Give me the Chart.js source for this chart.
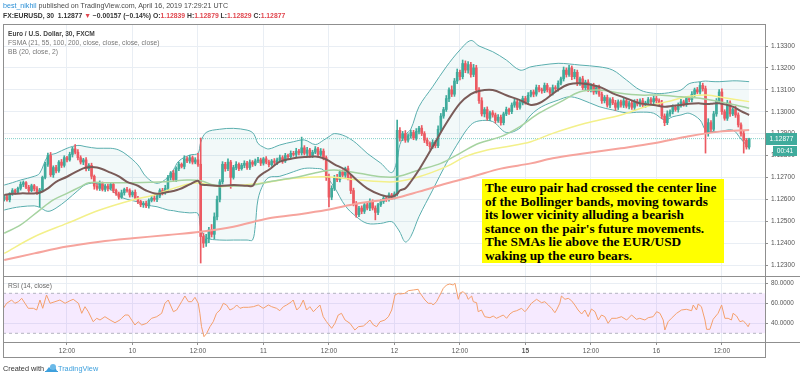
<!DOCTYPE html>
<html><head><meta charset="utf-8">
<script src="https://cdn.jsdelivr.net/npm/chart.js@4.4.1/dist/chart.umd.min.js"></script>
<style>
html,body{margin:0;padding:0;background:#fff;width:800px;height:378px;overflow:hidden;font-family:"Liberation Sans",Arial,sans-serif;}
#wrap{position:relative;width:800px;height:378px;}
canvas{position:absolute;left:0;}
.t{position:absolute;white-space:nowrap;line-height:1;}
.ln{position:absolute;background:#8f8f8f;}
.r{color:#e0464e;}
#note{position:absolute;left:482px;top:179px;width:242px;height:84px;background:#ffff00;font-family:"Liberation Serif","Times New Roman",serif;font-weight:bold;font-size:13.3px;line-height:13.5px;color:#000;padding:2px 0 0 3px;box-sizing:border-box;white-space:nowrap;overflow:hidden;}
</style></head><body><div id="wrap">
<canvas id="main" width="800" height="276" style="top:0"></canvas>
<canvas id="rsi" width="800" height="81" style="top:276px"></canvas>

<div class="ln" style="left:3px;top:24px;width:1px;height:334px"></div>
<div class="ln" style="left:3px;top:24px;width:763px;height:1px"></div>
<div class="ln" style="left:765px;top:24px;width:1px;height:334px"></div>
<div class="ln" style="left:3px;top:357px;width:763px;height:1px"></div>
<div class="ln" style="left:3px;top:276px;width:797px;height:1px"></div>
<div class="ln" style="left:3px;top:342px;width:797px;height:1px"></div>

<div class="t" style="left:3px;top:2.5px;font-size:7.1px;color:#4a4a4a"><span style="color:#2a8fd6">best_nikhil</span> published on TradingView.com, April 16, 2019 17:29:21 UTC</div>
<div class="t" style="left:3px;top:12.5px;font-size:6.8px;font-weight:bold;color:#333">FX:EURUSD, 30&nbsp; 1.12877 <span class="r">▼</span> −0.00157 (−0.14%) O:<span class="r">1.12839</span> H:<span class="r">1.12879</span> L:<span class="r">1.12829</span> C:<span class="r">1.12877</span></div>
<div class="t" style="left:8px;top:30.5px;font-size:6.6px;font-weight:bold;color:#444">Euro / U.S. Dollar, 30, FXCM</div>
<div class="t" style="left:8px;top:39.5px;font-size:6.75px;color:#777">FSMA (21, 55, 100, 200, close, close, close, close)</div>
<div class="t" style="left:8px;top:48.5px;font-size:6.75px;color:#777">BB (20, close, 2)</div>
<div class="t" style="left:8px;top:282.5px;font-size:6.65px;color:#666">RSI (14, close)</div>

<div id="note">The euro pair had crossed the center line<br>of the Bollinger bands, moving towards<br>its lower vicinity alluding a bearish<br>stance on the pair's future movements.<br>The SMAs lie above the EUR/USD<br>waking up the euro bears.</div>

<div class="t" style="left:3px;top:364.5px;font-size:7.3px;color:#333">Created with</div>
<svg style="position:absolute;left:45px;top:363px" width="13" height="9" viewBox="0 0 13 9"><path d="M1 8 L4 4 L6 6 L9 2 L12 8 Z" fill="#3ea0dd"/><circle cx="8" cy="4" r="3" fill="#6bb9e8"/><path d="M0 8.5 H13" stroke="#3ea0dd" stroke-width="1"/></svg>
<div class="t" style="left:58px;top:364.5px;font-size:7.3px;color:#3ea0dd">TradingView</div>
</div>
<script>
// ---------- data (prices in pips above 1.12000) ----------
const BASE = 1.12;
const firstOpen = 600;
const closes = [
612,598,625,640,632,650,668,676,655,640,
662,648,630,642,700,760,800,712,745,730,
770,755,790,780,805,830,815,790,770,780,
740,755,705,660,650,672,645,660,650,668,
640,625,610,630,645,640,620,632,605,590,
575,582,570,595,605,600,615,640,630,650,
700,720,690,740,760,750,785,775,790,770,
780,760,430,400,420,460,440,520,600,680,
760,740,770,700,745,760,740,755,765,745,
770,760,775,780,765,785,770,758,775,768,
780,790,775,800,795,810,805,820,812,835,
810,825,800,815,830,805,820,790,700,610,
650,700,690,725,710,740,700,640,580,530,
560,545,575,560,590,560,540,575,590,605,
600,620,610,625,915,880,900,870,890,905,
880,910,925,900,870,855,840,860,845,920,
980,1010,1060,1100,1080,1140,1180,1160,1220,1190,
1215,1170,1200,1100,1050,990,1010,970,995,985,
960,975,950,990,1010,1000,1030,1045,1020,1040,
1060,1045,1075,1090,1080,1110,1100,1095,1120,1100,
1085,1110,1105,1130,1150,1190,1170,1200,1160,1180,
1130,1150,1110,1135,1100,1120,1090,1110,1080,1050,
1065,1030,1055,1040,1020,1045,1030,1050,1025,1040,
1020,1045,1035,1050,1030,1040,1055,1045,1060,1050,
1040,980,950,990,1000,1020,1010,1030,1045,1035,
1060,1055,1080,1100,1090,1120,1105,900,950,920,
990,1050,1090,1000,970,1040,990,1010,985,940,
900,870,839,877];
const upWick = [
6,8,5,9,7,6,12,8,5,9, 7,6,10,8,6,9,11,14,8,10, 7,12,9,6,10,8,20,12,9,7,
11,8,10,6,9,12,7,8,10,6, 9,7,8,12,6,10,8,7,11,9, 6,8,10,7,9,12,6,8,10,14,
9,7,12,8,10,6,14,9,11,8, 10,30,120,14,20,12,25,18,15,10, 12,9,15,8,10,12,7,9,11,8,
10,7,9,12,8,6,10,9,7,11, 8,12,9,10,7,11,9,13,8,49, 10,12,8,9,11,7,12,10,8,15,
12,9,14,8,10,7,12,9,11,10, 8,10,7,9,12,8,10,7,9,11, 8,10,7,9,47,12,10,14,9,11,
10,13,8,12,9,10,7,12,8,15, 12,10,14,9,18,12,15,10,16,12, 14,10,16,12,10,14,9,12,8,10,
9,12,10,8,11,6,10,12,8,9, 11,10,12,8,9,12,10,8,11,9, 10,12,9,11,8,14,10,12,9,13,
10,8,12,9,11,8,10,9,12,10, 9,11,8,10,12,9,8,11,10,9, 8,10,12,9,11,8,10,9,12,10,
9,12,10,14,8,11,9,10,12,8, 10,9,12,8,11,14,10,12,18,10, 12,10,11,14,9,12,10,8,15,10,
9,12,8,2];
const dnWick = [
8,6,10,7,9,6,8,10,7,9, 6,10,8,65,9,7,10,8,12,9, 7,10,8,9,6,12,8,10,9,12,
10,9,12,14,8,10,7,9,12,8, 10,7,9,6,11,8,10,9,7,10, 9,12,8,10,7,9,11,8,10,7,
9,12,8,10,9,7,11,8,10,9, 8,10,121,20,15,18,12,20,14,12, 10,12,9,50,8,10,9,7,11,8,
9,10,7,8,11,9,8,10,7,9, 10,8,11,7,9,10,8,12,9,10, 8,11,9,10,7,12,9,10,14,45,
12,10,9,11,8,10,12,14,10,12, 9,11,10,8,12,9,34,10,8,9, 10,8,11,9,10,14,12,10,9,11,
8,10,12,9,11,10,12,8,10,9, 12,10,9,14,11,10,12,15,10,12, 14,12,10,15,12,10,14,9,11,10,
12,9,11,10,8,12,9,10,11,8, 9,11,10,8,12,9,10,11,8,10, 12,9,10,11,8,10,12,9,14,10,
11,10,9,12,8,10,11,9,10,12, 10,9,12,8,14,10,9,11,8,12, 10,14,9,11,8,10,12,9,10,11,
10,12,14,9,11,10,8,12,9,10, 11,9,10,12,8,10,11,89,12,10, 9,11,10,12,9,10,12,8,11,10,
12,59,10,10];

const bbX = [1,4,7,12,14,17,20,24,28,31,35,40,43,46,50,53,57,61,63,65,69,72,73,75,80,85,90,92,93,94,
96,98,102,107,111,115,118,120,122,126,130,134,139,143,145,146,148,150,153,158,163,168,172,175,180,185,190,194,198,204,
208,212,219,224,229,234,239,243,246,249,252,256,258,260,263,268,271,274];
const bbUpper = [665,676,688,705,719,797,810,833,846,840,833,833,825,802,757,703,673,700,734,775,802,810,860,905,920,924,916,905,885,855,
838,830,848,863,871,850,870,886,900,888,856,810,765,722,780,850,895,920,1023,1114,1205,1282,1325,1300,1274,1236,1190,1205,1213,1221,
1218,1213,1205,1190,1145,1099,1084,1084,1090,1099,1128,1137,1140,1138,1137,1141,1140,1137];
const bbLower = [551,560,566,570,563,545,560,597,640,668,672,645,615,600,588,574,566,551,548,543,538,535,470,425,414,414,414,414,480,600,
670,700,705,726,741,741,734,690,655,570,521,490,490,498,470,450,405,430,521,642,764,871,940,958,955,905,925,985,1023,1053,
1068,1058,1023,1008,995,998,993,962,977,985,993,962,916,910,909,916,875,833];
const bbBasis = [620,625,627,627,630,650,680,703,730,745,745,722,705,680,662,640,625,633,638,645,668,685,668,665,661,665,662,661,680,700,
720,735,772,787,793,795,787,775,760,735,690,650,620,612,625,640,650,680,735,840,947,1038,1080,1095,1099,1075,1053,1031,1045,1100,
1125,1130,1114,1084,1061,1038,1031,1023,1027,1031,1036,1038,1035,1036,1038,1023,1003,985];

const sma55X = [1,7,14,19,24,29,32,38,48,60,68,73,78,85,92,98,102,109,117,122,131,139,145,153,161,168,175,183,190,197,205,212,219,227,234,241,249,256,263,269,274];
const sma55 = [445,483,551,597,627,658,676,676,676,680,688,685,665,661,665,680,688,703,726,734,719,703,703,734,764,810,856,886,932,993,1046,1091,1099,1084,1076,1076,1068,1061,1046,1031,1016];
const sma100X = [1,12,24,36,48,56,63,70,75,80,87,95,107,119,131,144,153,163,170,178,185,194,202,214,227,236,244,251,258,266,274];
const sma100 = [353,429,490,551,597,620,650,673,670,658,664,673,696,703,688,680,703,749,795,825,840,863,901,947,985,1023,1046,1068,1076,1061,1046];
const sma200X = [1,12,24,36,48,61,73,85,98,107,119,131,144,153,163,173,183,194,202,214,227,239,251,263,274];
const sma200 = [323,353,384,406,422,437,452,475,513,528,551,582,605,635,672,705,740,764,787,810,833,856,886,909,916];

const rsiX = [0.7,1.9,3.7,4.9,6.2,7.4,8.6,9.8,11.7,12.9,14.1,15.1,16.5,17.8,19.6,21.4,23.3,25.1,26.3,28.2,
29.4,30.6,31.8,33.6,34.9,36.1,37.9,39.8,41.6,43.4,44.0,45.3,46.5,47.7,48.9,50.1,51.4,53.2,55.0,56.9,
58.7,59.9,61.1,63.0,64.2,66.0,67.2,68.5,69.7,70.9,72.1,72.7,73.3,74.2,75.2,76.4,77.6,78.8,80.1,81.3,
82.5,83.7,85.0,86.2,87.4,88.6,90.5,92.3,94.1,95.9,97.8,99.0,100.8,102.0,103.3,104.5,106.3,106.9,108.2,109.4,
110.6,111.8,113.0,114.3,115.5,116.7,117.9,119.1,121.0,122.2,123.4,124.6,125.9,127.7,129.5,130.8,132.6,133.8,135.0,136.3,
137.5,138.7,140.5,141.8,143.0,144.2,145.4,
146.0,147.8,149.1,150.9,152.7,153.3,155.2,156.4,157.6,158.2,159.4,160.7,161.9,163.1,164.3,165.5,166.2,167.4,168.2,169.2,
170.4,171.0,172.3,172.9,174.1,174.7,175.9,177.1,179.0,180.2,181.4,182.6,183.9,185.1,186.3,187.5,188.8,190.6,191.8,192.4,
194.2,196.1,197.9,199.1,200.4,201.6,202.8,203.4,204.6,205.2,206.5,207.7,208.9,210.1,211.3,212.6,213.8,215.0,216.2,217.5,
218.7,219.9,221.1,222.3,223.6,225.4,227.2,229.1,230.9,232.7,233.9,235.8,237.0,238.8,240.1,241.3,242.5,243.1,244.3,245.5,
247.4,249.2,251.0,252.9,253.5,254.7,255.3,256.5,257.8,258.4,259.6,260.8,262.6,263.9,265.1,266.3,267.5,268.1,269.4,270.6,
271.8,273.0,273.6,274.2];
const rsiV = [55.0,60.0,63.3,60.0,61.6,65.0,60.0,55.0,55.0,53.3,63.3,55.0,68.3,60.0,61.6,63.3,60.0,62.6,64.0,60.0,
50.0,56.6,51.6,41.6,45.0,43.3,46.6,43.3,40.6,43.3,45.0,48.3,48.3,43.3,38.3,41.6,38.3,40.0,45.0,46.6,
50.0,60.0,63.3,51.6,53.3,61.6,67.3,61.6,61.6,66.0,60.0,50.0,36.6,26.6,30.0,36.6,41.6,50.0,53.3,60.0,
58.3,53.3,55.0,58.3,55.0,56.0,56.0,56.6,58.3,55.0,58.3,56.6,55.0,52.6,56.6,58.3,61.6,63.3,53.3,56.6,
63.3,53.3,56.6,51.6,55.0,58.3,46.6,41.6,35.0,40.0,48.3,50.0,43.3,40.0,33.3,36.6,37.3,40.0,43.3,38.3,
36.6,41.6,43.3,46.6,53.3,68.3,70.0,
69.3,70.0,72.6,73.3,74.0,70.6,63.3,60.0,60.0,58.3,61.6,68.3,75.0,78.3,79.3,78.3,80.0,64.0,70.6,71.6,
68.3,64.0,67.3,61.6,60.6,51.6,53.3,46.6,45.6,47.3,45.0,46.6,48.3,45.0,49.3,51.6,52.6,55.0,51.6,53.3,
60.0,64.0,60.6,61.6,58.3,55.0,50.6,53.3,60.0,67.3,64.0,65.0,62.6,58.3,53.3,49.3,53.3,46.6,54.3,51.6,
43.3,48.3,46.6,40.0,45.0,45.0,46.6,43.3,48.3,44.0,45.0,43.3,45.6,46.6,51.6,50.0,43.3,33.3,41.6,45.0,
50.0,53.3,54.0,52.6,58.3,53.3,59.3,56.6,43.3,34.0,34.0,44.0,50.0,58.3,45.0,45.0,43.3,50.0,47.3,41.6,
42.6,39.0,36.6,40.0];

const timeTickIdx = [24,48,72,96,120,144,168,192,216,240,264];
const timeTickLabels = ["12:00","10","12:00","11","12:00","12","12:00","15","12:00","16","12:00"];
const priceTicks = [1.123,1.124,1.125,1.126,1.127,1.128,1.129,1.130,1.131,1.132,1.133];
const rsiTicks = [40,60,80];
const rsiBand = [30,70];
const lastPrice = 1.12877;
const countdown = "00:41";

// ---------- build ----------
const X_MIN = 0.55, X_MAX = 279.8;
const Y_MAX = 1.1340046, Y_MIN = 1.1224978;
const UP = '#3fab9c', DN = '#ec5a62', GRID = '#e9eef4', AX = '#8f8f8f';
const FONT = '"Liberation Sans", Arial, sans-serif';
Chart.defaults.font.family = FONT;
const toP = v => +(BASE + v / 1e5).toFixed(5);
const pts = (xs, vs, f) => xs.map((x, k) => ({x, y: f ? f(vs[k]) : vs[k]}));

const bodies = [], wicks = [], cols = [];
for (let k = 0; k < closes.length; k++) {
  const o = k === 0 ? firstOpen : closes[k - 1], c = closes[k];
  const hi = Math.max(o, c) + (upWick[k] || 0), lo = Math.min(o, c) - (dnWick[k] || 0);
  bodies.push({x: k + 1, y: [toP(o), toP(c)]});
  wicks.push({x: k + 1, y: [toP(lo), toP(hi)]});
  cols.push(c >= o ? UP : DN);
}
const lineDs = (data, color, width, order, extra) => Object.assign({type: 'line', data, borderColor: color, borderWidth: width, pointRadius: 0, tension: 0.35, fill: false, order}, extra || {});

const priceLabel = {
  id: 'priceLabel',
  afterDraw(chart) {
    const ctx = chart.ctx, a = chart.chartArea, y = Math.round(chart.scales.y.getPixelForValue(lastPrice));
    ctx.save();
    ctx.fillStyle = UP;
    ctx.fillRect(a.right + 1, y - 6, 31, 12);
    ctx.fillRect(a.right + 8, y + 7, 24, 10);
    ctx.fillStyle = '#fff';
    ctx.font = '6.6px ' + FONT;
    ctx.textBaseline = 'middle';
    ctx.textAlign = 'center';
    ctx.fillText(lastPrice.toFixed(5), a.right + 16.5, y);
    ctx.fillText(countdown, a.right + 20, y + 12);
    ctx.restore();
  }
};

new Chart(document.getElementById('main'), {
  type: 'bar',
  data: {datasets: [
    lineDs(pts(bbX, bbUpper, toP), '#5aaeae', 1, 10, {fill: '+1', backgroundColor: 'rgba(90,174,174,0.08)'}),
    lineDs(pts(bbX, bbLower, toP), '#5aaeae', 1, 9),
    lineDs([{x: X_MIN, y: lastPrice}, {x: X_MAX, y: lastPrice}], '#7fcfc8', 1, 8, {borderDash: [1, 1], tension: 0}),
    {type: 'bar', data: wicks, backgroundColor: cols, barThickness: 1, grouped: false, order: 6},
    {type: 'bar', data: bodies, backgroundColor: cols, barThickness: 2, grouped: false, minBarLength: 1, order: 5},
    lineDs(pts(sma200X, sma200, toP), '#f6a49d', 2, 4),
    lineDs(pts(sma100X, sma100, toP), '#f3f08a', 1.5, 3),
    lineDs(pts(sma55X, sma55, toP), '#a6d3a0', 1.5, 2),
    lineDs(pts(bbX, bbBasis, toP), '#7a5b58', 2, 1)
  ]},
  options: {
    responsive: false, animation: false, events: [], devicePixelRatio: 1,
    layout: {padding: {left: 3, top: 24, right: 0, bottom: 0}},
    plugins: {legend: {display: false}, tooltip: {enabled: false}},
    scales: {
      x: {type: 'linear', min: X_MIN, max: X_MAX, offset: false,
        afterBuildTicks: s => { s.ticks = timeTickIdx.map(v => ({value: v})); },
        ticks: {display: false}, grid: {color: GRID, drawTicks: false, offset: false}, border: {display: false},
        afterFit: s => { s.height = 0; s.paddingLeft = 0; s.paddingRight = 0; }},
      y: {position: 'right', min: Y_MIN, max: Y_MAX,
        afterBuildTicks: s => { s.ticks = priceTicks.map(v => ({value: v})); },
        ticks: {font: {size: 6.6}, color: '#555', padding: 3, callback: v => v.toFixed(5)},
        grid: {color: GRID, tickLength: 3, tickColor: AX}, border: {display: false},
        afterFit: s => { s.width = 35; s.paddingTop = 0; s.paddingBottom = 0; }}
    }
  },
  plugins: [priceLabel]
});

new Chart(document.getElementById('rsi'), {
  type: 'line',
  data: {datasets: [
    lineDs([{x: X_MIN, y: rsiBand[1]}, {x: X_MAX, y: rsiBand[1]}], '#b4b4c0', 1, 3, {borderDash: [3, 3], tension: 0, fill: '+1', backgroundColor: 'rgba(153,21,255,0.09)'}),
    lineDs([{x: X_MIN, y: rsiBand[0]}, {x: X_MAX, y: rsiBand[0]}], '#b4b4c0', 1, 2, {borderDash: [3, 3], tension: 0}),
    lineDs(pts(rsiX, rsiV), '#f4a06c', 1, 1, {tension: 0})
  ]},
  options: {
    responsive: false, animation: false, events: [], devicePixelRatio: 1,
    layout: {padding: {left: 3, top: 0, right: 0, bottom: 0}},
    plugins: {legend: {display: false}, tooltip: {enabled: false}},
    scales: {
      x: {type: 'linear', min: X_MIN, max: X_MAX,
        afterBuildTicks: s => { s.ticks = timeTickIdx.map(v => ({value: v})); },
        ticks: {autoSkip: false, maxRotation: 0, padding: 2, color: '#555',
          font: c => ({size: 6.5, weight: timeTickLabels[c.index] === '15' ? 'bold' : 'normal'}),
          callback: (v, i) => timeTickLabels[i]},
        grid: {color: GRID, tickLength: 3, tickColor: AX}, border: {display: false},
        afterFit: s => { s.height = 15; s.paddingLeft = 0; s.paddingRight = 0; }},
      y: {position: 'right', min: 21.3, max: 87.3,
        afterBuildTicks: s => { s.ticks = rsiTicks.map(v => ({value: v})); },
        ticks: {font: {size: 6.3}, color: '#555', padding: 3, callback: v => v.toFixed(4)},
        grid: {color: GRID, tickLength: 3, tickColor: AX}, border: {display: false},
        afterFit: s => { s.width = 35; s.paddingTop = 0; s.paddingBottom = 0; }}
    }
  }
});
</script>
</body></html>
